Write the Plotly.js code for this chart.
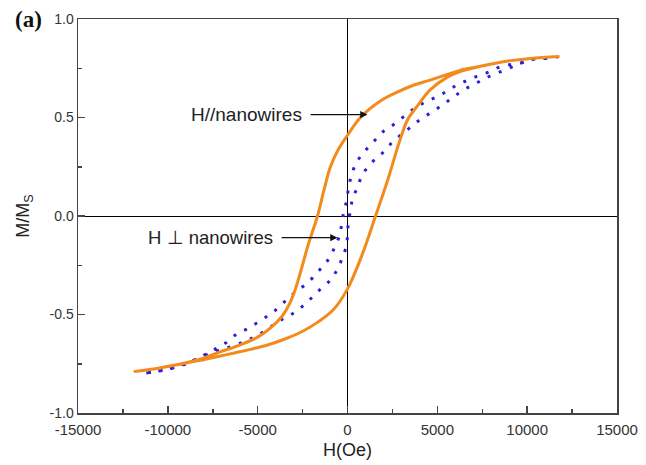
<!DOCTYPE html>
<html>
<head>
<meta charset="utf-8">
<script src="https://cdn.plot.ly/plotly-3.0.1.min.js"></script>
<style>html,body{margin:0;padding:0;background:#fff;}#chart{width:646px;height:465px;}</style>
</head>
<body>
<div id="chart"></div>
<script>
// H // nanowires (orange, solid): descending branch then ascending branch
const paraDownH = [11800, 10200, 9200, 8300, 7400, 6500, 5600, 4600, 3700, 2800, 1850, 720, 0, -500, -950, -1300, -1670, -2200, -2600, -2900, -3250, -3650, -4250, -5000, -6000, -7100, -8200, -9500, -10700, -11900];
const paraDownM = [0.81, 0.80, 0.79, 0.777, 0.76, 0.745, 0.72, 0.69, 0.665, 0.63, 0.585, 0.50, 0.41, 0.34, 0.25, 0.135, 0.0, -0.15, -0.28, -0.37, -0.45, -0.51, -0.565, -0.615, -0.655, -0.69, -0.727, -0.755, -0.775, -0.79];
const paraUpH = [-11900, -10700, -9500, -8200, -7200, -6300, -5400, -4450, -3560, -2600, -1670, -780, 0, 800, 1560, 2230, 2900, 3350, 3900, 4600, 5560, 6300, 7400, 8300, 9200, 10200, 11800];
const paraUpM = [-0.79, -0.775, -0.755, -0.733, -0.713, -0.695, -0.677, -0.655, -0.627, -0.59, -0.54, -0.475, -0.37, -0.2, 0.0, 0.18, 0.38, 0.49, 0.56, 0.64, 0.705, 0.735, 0.76, 0.777, 0.79, 0.80, 0.81];

// H ⊥ nanowires (blue, dotted)
const perpDownH = [11700, 11070, 10400, 9790, 9130, 8460, 7850, 7230, 6570, 5900, 5290, 4620, 3950, 3340, 2670, 2000, 1390, 780, 390, 170, 55, -55, -220, -330, -450, -720, -1060, -1610, -2230, -2950, -3560, -4170, -4840, -5510, -6180, -6790, -7460, -8070, -8790, -9460, -10070, -10740, -11400];
const perpDownM = [0.807, 0.80, 0.797, 0.78, 0.77, 0.756, 0.73, 0.71, 0.685, 0.655, 0.62, 0.59, 0.56, 0.52, 0.47, 0.43, 0.37, 0.31, 0.25, 0.19, 0.14, 0.076, 0.015, -0.046, -0.10, -0.16, -0.22, -0.28, -0.34, -0.39, -0.44, -0.49, -0.53, -0.57, -0.60, -0.645, -0.68, -0.71, -0.74, -0.76, -0.78, -0.79, -0.80];
const perpUpH = [-11400, -10740, -10070, -9460, -8790, -8120, -7460, -6900, -6230, -5560, -4900, -4230, -3560, -2950, -2280, -1670, -1000, -560, -280, -55, 0, 55, 170, 280, 560, 830, 1340, 1950, 2560, 3230, 3900, 4560, 5230, 5840, 6460, 7180, 7790, 8460, 9130, 9790, 10400, 11070, 11700];
const perpUpM = [-0.80, -0.79, -0.78, -0.765, -0.745, -0.716, -0.69, -0.675, -0.655, -0.63, -0.60, -0.56, -0.52, -0.49, -0.44, -0.385, -0.33, -0.27, -0.21, -0.15, -0.09, -0.03, 0.03, 0.086, 0.147, 0.21, 0.27, 0.32, 0.38, 0.43, 0.48, 0.52, 0.56, 0.60, 0.64, 0.675, 0.705, 0.73, 0.756, 0.78, 0.797, 0.80, 0.807];

const xTicks = [-15000, -10000, -5000, 0, 5000, 10000, 15000];
const yTicks = [-1.0, -0.5, 0.0, 0.5, 1.0];
const xTickText = ['-15000', '-10000', '-5000', '0', '5000', '10000', '15000'];
const yTickText = ['-1.0', '-0.5', '0.0', '0.5', '1.0'];

const labelPara = 'H//nanowires';
const labelPerp = 'H \u22a5 nanowires';

const orange = '#f28a1c';
const blue = '#2b22d6';

const traces = [
  {x: perpDownH.concat(perpUpH), y: perpDownM.concat(perpUpM), mode: 'lines', type: 'scatter',
   line: {color: blue, width: 3, dash: '3px,9px', shape: 'spline', smoothing: 1.0}, hoverinfo: 'skip'},
  {x: paraDownH.concat(paraUpH), y: paraDownM.concat(paraUpM), mode: 'lines', type: 'scatter',
   line: {color: orange, width: 3, shape: 'spline', smoothing: 1.0}, hoverinfo: 'skip'}
];

const sans = 'Liberation Sans, Arial, sans-serif';

const layout = {
  width: 646, height: 465,
  margin: {l: 78, r: 29, t: 19, b: 52},
  paper_bgcolor: '#fff', plot_bgcolor: '#fff',
  showlegend: false,
  xaxis: {
    range: [-15000, 15000], tickvals: xTicks, ticktext: xTickText,
    ticks: 'inside', ticklen: 7, tickwidth: 1.5, tickcolor: '#444',
    minor: {dtick: 2500, ticks: 'inside', ticklen: 4, tickwidth: 1.5, tickcolor: '#444'},
    showline: true, linecolor: '#444', linewidth: 1.5, mirror: true,
    showgrid: false, zeroline: true, zerolinecolor: '#000', zerolinewidth: 1,
    tickfont: {family: sans, size: 15, color: '#333'}, ticklabelstandoff: 2,
    title: {text: 'H(Oe)', font: {family: sans, size: 18, color: '#222'}, standoff: 7}
  },
  yaxis: {
    range: [-1.0, 1.0], tickvals: yTicks, ticktext: yTickText,
    ticks: 'inside', ticklen: 7, tickwidth: 1.5, tickcolor: '#444',
    minor: {dtick: 0.25, ticks: 'inside', ticklen: 4, tickwidth: 1.5, tickcolor: '#444'},
    showline: true, linecolor: '#444', linewidth: 1.5, mirror: true,
    showgrid: false, zeroline: true, zerolinecolor: '#000', zerolinewidth: 1,
    tickfont: {family: sans, size: 14, color: '#333'},
    title: {text: 'M/M<sub>S</sub>', font: {family: sans, size: 18, color: '#222'}, standoff: 15}
  },
  annotations: [
    {x: 1110, y: 0.515, xref: 'x', yref: 'y', ax: -5620, ay: 0.515, axref: 'x', ayref: 'y',
     showarrow: true, arrowhead: 2, arrowsize: 1.2, arrowwidth: 1.2, arrowcolor: '#111', startstandoff: 7,
     text: labelPara, font: {family: sans, size: 19, color: '#222'}},
    {x: -560, y: -0.11, xref: 'x', yref: 'y', ax: -7620, ay: -0.11, axref: 'x', ayref: 'y',
     showarrow: true, arrowhead: 2, arrowsize: 1.2, arrowwidth: 1.2, arrowcolor: '#111', startstandoff: 7,
     text: labelPerp, font: {family: sans, size: 18.5, color: '#222'}},
    {x: (28 - 78) / 539, y: 1 + (19 - 20) / 394, xref: 'paper', yref: 'paper', xanchor: 'center', yanchor: 'middle',
     showarrow: false, text: '<b>(a)</b>',
     font: {family: 'Liberation Serif, Times New Roman, serif', size: 23, color: '#111'}}
  ]
};

Plotly.newPlot('chart', traces, layout, {staticPlot: true, displayModeBar: false});
</script>
</body>
</html>
